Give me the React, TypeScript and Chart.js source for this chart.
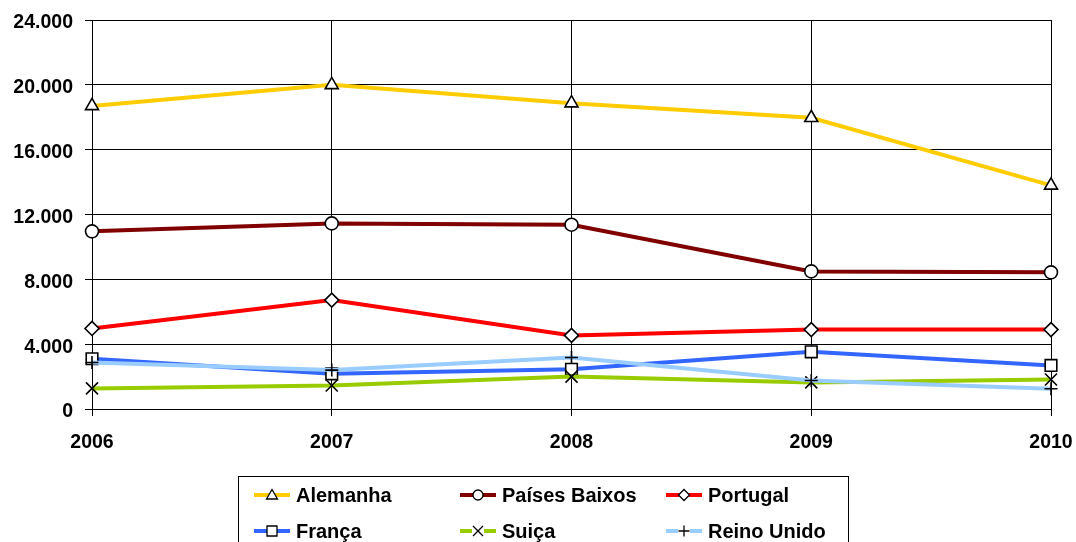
import React, { useEffect, useRef } from "react";
import { Chart, registerables } from "chart.js";

Chart.register(...registerables);

const years = ["2006", "2007", "2008", "2009", "2010"];
const alemanha = [18700, 20000, 18870, 17970, 13800];
const paisesBaixos = [10960, 11450, 11370, 8490, 8430];
const portugal = [4970, 6720, 4540, 4900, 4900];
const franca = [3100, 2170, 2450, 3530, 2690];
const suica = [1270, 1450, 2000, 1640, 1820];
const reinoUnido = [2870, 2400, 3180, 1760, 1250];

const seriesNames = ["Alemanha", "Países Baixos", "Portugal", "França", "Suiça", "Reino Unido"];
const seriesColors = ["#FFCC00", "#800000", "#FF0000", "#3366FF", "#99CC00", "#99CCFF"];
const seriesMarkers = ["triangle", "circle", "rectRot", "rect", "crossRot", "cross"];
const seriesRadius = [7.5, 6.5, 7, 8.2, 8.5, 6.5];
const seriesData = [alemanha, paisesBaixos, portugal, franca, suica, reinoUnido];

const yTicks = [0, 4000, 8000, 12000, 16000, 20000, 24000];

const FONT = "'Liberation Sans', Arial, Helvetica, sans-serif";

function fmt(v: number): string {
  return String(v).replace(/\B(?=(\d{3})+(?!\d))/g, ".");
}

function drawMarker(ctx: CanvasRenderingContext2D, style: string, x: number, y: number) {
  ctx.save();
  ctx.fillStyle = "#fff";
  ctx.strokeStyle = "#000";
  ctx.lineWidth = 1.3;
  ctx.beginPath();
  if (style === "triangle") {
    ctx.moveTo(x, y - 5.5);
    ctx.lineTo(x + 5.5, y + 4);
    ctx.lineTo(x - 5.5, y + 4);
    ctx.closePath();
    ctx.fill();
    ctx.stroke();
  } else if (style === "circle") {
    ctx.arc(x, y, 5, 0, Math.PI * 2);
    ctx.fill();
    ctx.stroke();
  } else if (style === "rectRot") {
    ctx.moveTo(x, y - 5.5);
    ctx.lineTo(x + 5.5, y);
    ctx.lineTo(x, y + 5.5);
    ctx.lineTo(x - 5.5, y);
    ctx.closePath();
    ctx.fill();
    ctx.stroke();
  } else if (style === "rect") {
    ctx.rect(x - 5, y - 5, 10, 10);
    ctx.fill();
    ctx.stroke();
  } else if (style === "crossRot") {
    ctx.fillRect(x - 6, y - 6, 12, 12);
    ctx.beginPath();
    ctx.moveTo(x - 5, y - 5);
    ctx.lineTo(x + 5, y + 5);
    ctx.moveTo(x + 5, y - 5);
    ctx.lineTo(x - 5, y + 5);
    ctx.stroke();
  } else if (style === "cross") {
    ctx.fillRect(x - 6, y - 6, 12, 12);
    ctx.beginPath();
    ctx.moveTo(x - 5.5, y);
    ctx.lineTo(x + 5.5, y);
    ctx.moveTo(x, y - 5.5);
    ctx.lineTo(x, y + 5.5);
    ctx.stroke();
  }
  ctx.restore();
}

const legendPlugin = {
  id: "customLegend",
  afterDraw(chart: any) {
    const ctx = chart.ctx as CanvasRenderingContext2D;
    ctx.save();
    ctx.strokeStyle = "#000";
    ctx.lineWidth = 1;
    ctx.strokeRect(238.5, 476.5, 610, 80);
    const colX = [254, 460, 666];
    const rowY = [495, 531];
    ctx.font = `bold 20px ${FONT}`;
    ctx.textBaseline = "middle";
    ctx.textAlign = "left";
    seriesNames.forEach((name, i) => {
      const x = colX[i % 3];
      const y = rowY[Math.floor(i / 3)];
      ctx.strokeStyle = seriesColors[i];
      ctx.lineWidth = 4;
      ctx.beginPath();
      ctx.moveTo(x, y);
      ctx.lineTo(x + 36, y);
      ctx.stroke();
      drawMarker(ctx, seriesMarkers[i], x + 18, y);
      ctx.fillStyle = "#000";
      ctx.fillText(name, x + 42, y + 1);
    });
    ctx.restore();
  },
};

export default function App() {
  const ref = useRef<HTMLCanvasElement | null>(null);
  useEffect(() => {
    if (!ref.current) return;
    const chart = new Chart(ref.current, {
      type: "line",
      data: {
        labels: years,
        datasets: seriesData.map((d, i) => ({
          label: seriesNames[i],
          data: d,
          borderColor: seriesColors[i],
          backgroundColor: "#fff",
          borderWidth: 4,
          tension: 0,
          pointStyle: seriesMarkers[i] as any,
          pointRadius: seriesRadius[i],
          pointBorderColor: "#000",
          pointBackgroundColor: "#fff",
          pointBorderWidth: 1.6,
          order: 5 - i,
        })),
      },
      options: {
        animation: false,
        responsive: false,
        maintainAspectRatio: false,
        layout: { padding: { top: 20, right: 25, left: 0, bottom: 0 } },
        plugins: { legend: { display: false }, tooltip: { enabled: false } },
        scales: {
          x: {
            type: "category",
            offset: false,
            grid: { display: true, color: "#000", lineWidth: 1, tickLength: 7, drawTicks: true },
            border: { display: true, color: "#000", width: 1 },
            ticks: { color: "#000", font: { family: FONT, size: 19.5, weight: "bold" }, padding: 15, maxRotation: 0, autoSkip: false },
            afterFit: (s: any) => { s.height = 133; s.paddingLeft = 0; s.paddingRight = 0; },
          },
          y: {
            min: 0,
            max: 24000,
            afterBuildTicks: (s: any) => { s.ticks = yTicks.map((v) => ({ value: v })); },
            grid: { display: true, color: "#000", lineWidth: 1, tickLength: 7, drawTicks: true },
            border: { display: true, color: "#000", width: 1 },
            ticks: {
              color: "#000",
              font: { family: FONT, size: 19.5, weight: "bold" },
              padding: 12,
              labelOffset: 3,
              callback: (v: any) => fmt(Number(v)),
            },
            afterFit: (s: any) => { s.width = 92; s.paddingTop = 0; s.paddingBottom = 0; },
          },
        },
      },
      plugins: [legendPlugin],
    } as any);
    return () => chart.destroy();
  }, []);
  return (
    <div style={{ position: "fixed", left: 0, top: 0, width: 1076, height: 542, background: "#fff" }}>
      <canvas ref={ref} width={1076} height={542} style={{ width: 1076, height: 542, display: "block" }} />
    </div>
  );
}
